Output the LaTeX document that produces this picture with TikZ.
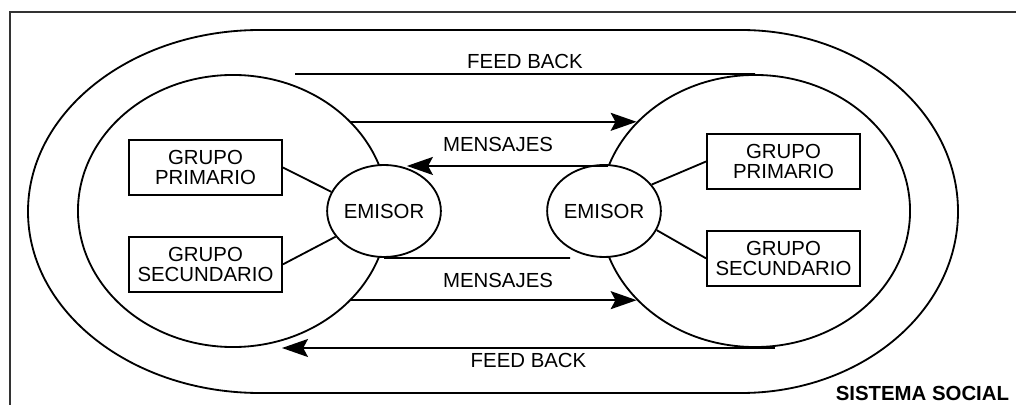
\documentclass[tikz,border=0pt]{standalone}
\usepackage{fontspec}
\setmainfont{Liberation Sans}
\usetikzlibrary{arrows.meta,positioning,shapes.geometric}

\begin{document}
\begin{tikzpicture}[
    x=0.025cm, y=-0.025cm,
    font=\fontsize{14.5}{14}\selectfont,
    >={Stealth[length=6.5mm,width=4.5mm,inset=1.2mm]},
    line width=1.3pt,
    box/.style={draw, minimum width=3.825cm, minimum height=1.375cm, align=center, inner sep=2pt},
    grp/.style={draw, ellipse, minimum width=7.75cm, minimum height=6.8cm},
    emi/.style={draw, ellipse, fill=white, minimum width=2.575cm, minimum height=2.3cm, inner sep=0pt},
    arr/.style={->}
]
    \useasboundingbox (0,0) rectangle (1016,405);

    % frame and social system
    \draw[line width=1.6pt, black!80] (1020,12) -- (10,12) -- (10,410);
    \draw (260,30) -- (741,30)
        arc[start angle=-90, end angle=90, x radius=217, y radius=181.5]
        -- (260,393)
        arc[start angle=90, end angle=270, x radius=232, y radius=181.5] -- cycle;

    % groups
    \node[grp] (grpL) at (233,211) {};
    \node[grp] (grpR) at (755,211) {};
    \node[emi] (emL) at (384,211) {EMISOR};
    \node[emi] (emR) at (604,211) {EMISOR};

    \node[box] (pl) at (205.5,167.5) {GRUPO\\PRIMARIO};
    \node[box, below=1cm of pl] (sl) {GRUPO\\SECUNDARIO};
    \node[box] (pr) at (783.5,161.5) {GRUPO\\PRIMARIO};
    \node[box, below=1cm of pr] (sr) {GRUPO\\SECUNDARIO};

    \draw (pl.east) -- (emL.160);
    \draw (sl.east) -- (emL.208);
    \draw (emR.29) -- (pr.west);
    \draw (emR.-20) -- (sr.west);

    % messages and feed back
    \coordinate (fbt) at (295,74);
    \coordinate (fbb) at (775,348);
    \coordinate (fbtip) at (282,348);
    \coordinate (m2end) at (570,258);

    \draw (grpR.north) -- node[above] {FEED BACK} (fbt);
    \draw[arr] (grpL.37) -- (grpR.143);
    \node (msg1) at (498,144) {MENSAJES};
    \draw[arr] (grpR.163) -- (grpR.163 -| emL.62);
    \draw (emL.south) -- (m2end);
    \node (msg2) at (498,280) {MENSAJES};
    \draw[arr] (grpL.-37) -- (grpR.-143);
    \draw[arr] (fbb) -- node[below] {FEED BACK} (fbtip);

    \node[anchor=east, inner sep=0pt, font=\fontsize{14.5}{14}\selectfont\bfseries] (sis) at (1010,393) {SISTEMA SOCIAL};
\end{tikzpicture}
\end{document}
